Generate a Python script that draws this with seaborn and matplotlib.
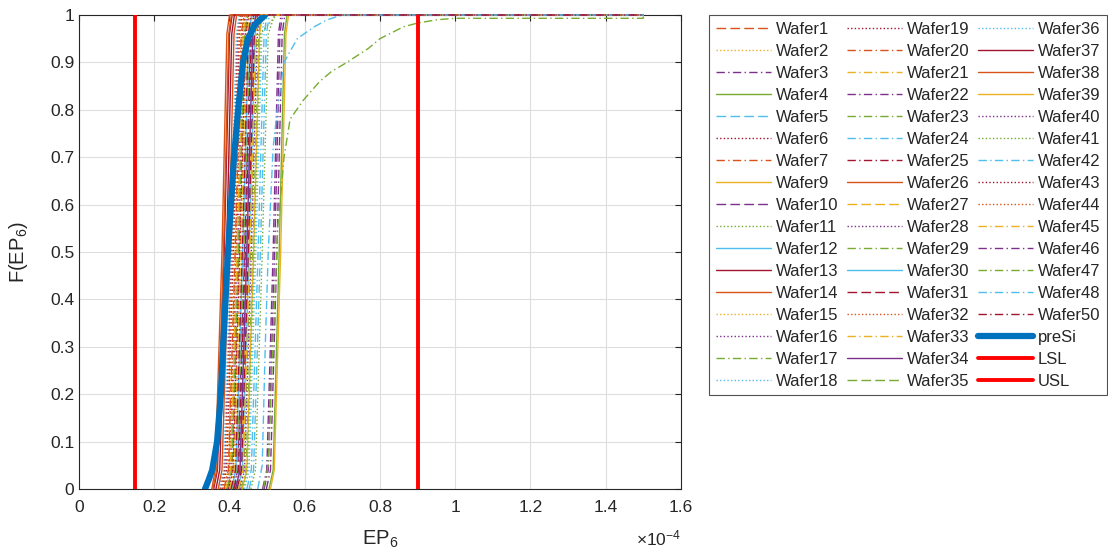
import numpy as np
import pandas as pd
import matplotlib
matplotlib.use('Agg')
import matplotlib.pyplot as plt
from matplotlib.ticker import FuncFormatter
import seaborn as sns

# EP6 values are in units of 1e-4
wafer_names = ['Wafer1', 'Wafer2', 'Wafer3', 'Wafer4', 'Wafer5', 'Wafer6', 'Wafer7', 'Wafer9',
               'Wafer10', 'Wafer11', 'Wafer12', 'Wafer13', 'Wafer14', 'Wafer15', 'Wafer16',
               'Wafer17', 'Wafer18', 'Wafer19', 'Wafer20', 'Wafer21', 'Wafer22', 'Wafer23',
               'Wafer24', 'Wafer25', 'Wafer26', 'Wafer27', 'Wafer28', 'Wafer29', 'Wafer30',
               'Wafer31', 'Wafer32', 'Wafer33', 'Wafer34', 'Wafer35', 'Wafer36', 'Wafer37',
               'Wafer38', 'Wafer39', 'Wafer40', 'Wafer41', 'Wafer42', 'Wafer43', 'Wafer44',
               'Wafer45', 'Wafer46', 'Wafer47', 'Wafer48', 'Wafer50']
wafer_styles = ['--', ':', '-.', '-', '--', ':', '-.', '-',
                '--', ':', '-', '-', '-', ':', ':',
                '-.', ':', ':', '-.', '-.', '-.', '-.',
                '-.', '-.', '-', '--', ':', '-.', '-',
                '--', ':', '-.', '-', '--', ':', '-',
                '-', '-', ':', ':', '-.', ':', ':',
                '-.', '-.', '-.', '-.', '-.']

# wafers with a plain steep CDF: EP6 read at F = 0, 0.04, 0.5, 0.96, 1
regular_names = [n for n in wafer_names if n not in ('Wafer47', 'Wafer48')]
cdf_levels = [0, 0.04, 0.5, 0.96, 1.0]
ep_f000 = [0.395, 0.402, 0.492, 0.505, 0.415, 0.388, 0.398, 0.509, 0.410, 0.457, 0.422, 0.358,
           0.353, 0.382, 0.392, 0.408, 0.440, 0.380, 0.385, 0.418, 0.498, 0.426, 0.446, 0.412,
           0.356, 0.390, 0.375, 0.432, 0.405, 0.420, 0.386, 0.400, 0.416, 0.394, 0.372, 0.364,
           0.370, 0.434, 0.428, 0.436, 0.452, 0.397, 0.377, 0.424, 0.488, 0.404]
ep_f004 = [0.407, 0.414, 0.503, 0.516, 0.427, 0.400, 0.410, 0.519, 0.422, 0.469, 0.434, 0.368,
           0.362, 0.394, 0.404, 0.420, 0.452, 0.392, 0.397, 0.430, 0.509, 0.438, 0.458, 0.424,
           0.366, 0.402, 0.387, 0.444, 0.417, 0.432, 0.398, 0.412, 0.428, 0.406, 0.384, 0.374,
           0.380, 0.446, 0.440, 0.448, 0.464, 0.409, 0.389, 0.436, 0.499, 0.416]
ep_f050 = [0.425, 0.432, 0.520, 0.532, 0.445, 0.418, 0.428, 0.536, 0.440, 0.487, 0.452, 0.386,
           0.380, 0.412, 0.422, 0.438, 0.470, 0.410, 0.415, 0.448, 0.526, 0.456, 0.476, 0.442,
           0.384, 0.420, 0.405, 0.462, 0.435, 0.450, 0.416, 0.430, 0.446, 0.424, 0.402, 0.392,
           0.398, 0.464, 0.458, 0.466, 0.482, 0.427, 0.407, 0.454, 0.516, 0.434]
ep_f096 = [0.441, 0.448, 0.534, 0.546, 0.461, 0.434, 0.444, 0.550, 0.456, 0.503, 0.468, 0.400,
           0.393, 0.428, 0.438, 0.454, 0.486, 0.426, 0.431, 0.464, 0.540, 0.472, 0.492, 0.458,
           0.398, 0.436, 0.421, 0.478, 0.451, 0.466, 0.432, 0.446, 0.462, 0.440, 0.418, 0.406,
           0.412, 0.480, 0.474, 0.482, 0.498, 0.443, 0.423, 0.470, 0.530, 0.450]
ep_f100 = [0.449, 0.456, 0.541, 0.553, 0.469, 0.442, 0.452, 0.557, 0.464, 0.520, 0.476, 0.407,
           0.400, 0.436, 0.446, 0.462, 0.494, 0.434, 0.439, 0.472, 0.547, 0.480, 0.500, 0.466,
           0.405, 0.444, 0.429, 0.486, 0.459, 0.474, 0.440, 0.454, 0.470, 0.448, 0.426, 0.413,
           0.419, 0.488, 0.482, 0.525, 0.506, 0.451, 0.431, 0.478, 0.537, 0.458]
ep_max = 1.5

# wafers with a long upper tail
w47_f = [0, 0.05, 0.3, 0.55, 0.7, 0.78, 0.82, 0.86, 0.88, 0.90, 0.93, 0.95, 0.975, 0.983, 0.99, 0.993, 0.993, 1.0]
w47_x = [0.490, 0.503, 0.515, 0.528, 0.545, 0.561, 0.596, 0.640, 0.670, 0.712, 0.770, 0.800, 0.862, 0.900, 0.952, 1.0, 1.5, 1.5]
w48_f = [0, 0.05, 0.3, 0.5, 0.72, 0.8, 0.9, 0.95, 0.975, 0.99, 1.0, 1.0]
w48_x = [0.475, 0.487, 0.495, 0.503, 0.516, 0.527, 0.545, 0.580, 0.625, 0.660, 0.700, 1.5]

# preSi reference curve
presi_f = [0, 0.02, 0.04, 0.1, 0.2, 0.3, 0.5, 0.7, 0.8, 0.9, 0.95, 0.98, 1.0]
presi_x = [0.335, 0.345, 0.354, 0.367, 0.377, 0.383, 0.396, 0.412, 0.423, 0.436, 0.449, 0.468, 0.495]

lsl = 0.15
usl = 0.9

matlab_colors = [(0.850, 0.325, 0.098), (0.929, 0.694, 0.125), (0.494, 0.184, 0.556),
                 (0.466, 0.674, 0.188), (0.301, 0.745, 0.933), (0.635, 0.078, 0.184)]
presi_color = (0.0, 0.447, 0.741)
dash_map = {'-': '-', '--': (0, (7, 3)), ':': (0, (1, 1.6)), '-.': (0, (6, 2.4, 1, 2.4))}

sns.set_style('white')
plt.rcParams['font.family'] = ['Liberation Sans', 'DejaVu Sans']
plt.rcParams['mathtext.fontset'] = 'custom'
plt.rcParams['mathtext.rm'] = 'Liberation Sans'
plt.rcParams['mathtext.it'] = 'Liberation Sans'

fig = plt.figure(figsize=(11.08, 5.55), dpi=100)
ax = fig.add_axes([0.0713, 0.119, 0.5433, 0.854])

curves = {}
for i, name in enumerate(regular_names):
    xs = [ep_f000[i], ep_f004[i], ep_f050[i], ep_f096[i], ep_f100[i], ep_max]
    fs = cdf_levels + [1.0]
    curves[name] = (xs, fs)
curves['Wafer47'] = (w47_x, w47_f)
curves['Wafer48'] = (w48_x, w48_f)

for i, name in enumerate(wafer_names):
    xs, fs = curves[name]
    d = pd.DataFrame({'ep': np.array(xs) * 1e-4, 'F': fs})
    sns.lineplot(data=d, x='ep', y='F', color=matlab_colors[i % 6],
                 linestyle=dash_map[wafer_styles[i]], linewidth=1.0,
                 sort=False, estimator=None, label=name, ax=ax,
                 clip_on=False, zorder=3)

d = pd.DataFrame({'ep': np.array(presi_x) * 1e-4, 'F': presi_f})
sns.lineplot(data=d, x='ep', y='F', color=presi_color, linewidth=4.5,
             sort=False, estimator=None, label='preSi', ax=ax, zorder=4)
ax.plot([lsl * 1e-4, lsl * 1e-4], [0, 1], color='red', linewidth=2.8, label='LSL', zorder=4)
ax.plot([usl * 1e-4, usl * 1e-4], [0, 1], color='red', linewidth=2.8, label='USL', zorder=4)

if ax.get_legend() is not None:
    ax.get_legend().remove()

ax.set_xlim(0, 1.6e-4)
ax.set_ylim(0, 1)
ax.set_xticks(np.arange(0, 1.61e-4, 0.2e-4))
ax.set_yticks(np.arange(0, 1.01, 0.1))
ax.xaxis.set_major_formatter(FuncFormatter(lambda v, p: '%g' % round(v / 1e-4, 3)))
ax.yaxis.set_major_formatter(FuncFormatter(lambda v, p: '%g' % round(v, 3)))
ax.grid(True, color='0.87', linewidth=0.8)
ax.tick_params(direction='in', top=True, right=True, labelsize=12.5, colors='0.15', length=4)
ax.tick_params(axis='x', pad=8)
for s in ax.spines.values():
    s.set_color('0.15')
    s.set_linewidth(0.8)
ax.text(1.0, -0.083, r'$\times10^{-4}$', transform=ax.transAxes, ha='right', va='top',
        fontsize=12.5, color='0.15')
ax.set_xlabel('EP$_6$', fontsize=14.5, color='0.15', labelpad=10)
ax.set_ylabel('F(EP$_6$)', fontsize=14.5, color='0.15', labelpad=14)

handles, labels = ax.get_legend_handles_labels()
leg = fig.legend(handles, labels, loc='upper left', bbox_to_anchor=(0.64, 0.973), ncol=3,
                 fontsize=12, frameon=True, fancybox=False, edgecolor='0.15',
                 handlelength=3.3, handletextpad=0.3, columnspacing=0.5,
                 labelspacing=0.42, borderpad=0.4, borderaxespad=0)
leg.get_frame().set_linewidth(0.8)

fig.savefig('out.png', dpi=100)
